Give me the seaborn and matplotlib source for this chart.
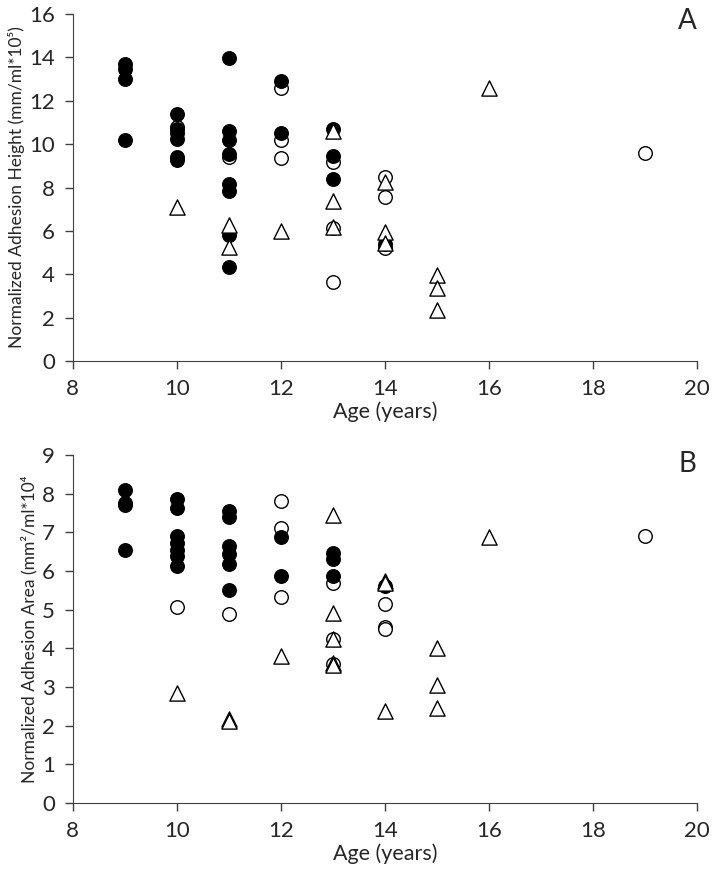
import pandas as pd
import seaborn as sns
import matplotlib.pyplot as plt

# panel A - adhesion height
a_filled_age = [9, 9, 9, 9, 10, 10, 10, 10, 10, 10, 11, 11, 11, 11, 11, 11, 11, 11, 12, 12, 13, 13, 13, 14]
a_filled_val = [13.7, 13.45, 13.0, 10.2, 11.4, 10.7, 10.5, 10.25, 9.4, 9.25,
                13.95, 10.6, 10.2, 9.55, 8.15, 7.85, 5.8, 4.35, 12.9, 10.5, 10.68, 9.47, 8.4, 5.38]
a_open_age = [10, 11, 12, 12, 12, 13, 13, 13, 14, 14, 14, 19]
a_open_val = [10.8, 9.4, 12.6, 10.2, 9.35, 9.18, 6.12, 3.65, 8.5, 7.55, 5.22, 9.6]
a_tri_age = [10, 11, 11, 12, 13, 13, 13, 14, 14, 14, 15, 15, 15, 16]
a_tri_val = [7.1, 6.25, 5.25, 6.0, 10.6, 7.4, 6.2, 8.27, 5.97, 5.45, 3.96, 3.37, 2.37, 12.6]

# panel B - adhesion area
b_filled_age = [9, 9, 9, 9, 10, 10, 10, 10, 10, 10, 10, 11, 11, 11, 11, 11, 11, 12, 12, 13, 13, 13, 14]
b_filled_val = [8.1, 7.75, 7.7, 6.55, 7.85, 7.64, 6.9, 6.72, 6.55, 6.38, 6.12,
                7.55, 7.4, 6.65, 6.45, 6.17, 5.51, 6.89, 5.86, 6.47, 6.3, 5.88, 5.61]
b_open_age = [10, 11, 12, 12, 12, 13, 13, 13, 14, 14, 14, 19]
b_open_val = [5.08, 4.88, 7.8, 7.1, 5.33, 5.68, 4.23, 3.6, 5.15, 4.56, 4.5, 6.91]
b_tri_age = [10, 11, 11, 12, 13, 13, 13, 13, 13, 14, 14, 14, 15, 15, 15, 16]
b_tri_val = [2.84, 2.16, 2.12, 3.8, 7.45, 4.91, 4.24, 3.62, 3.57, 5.74, 5.68, 2.39, 4.02, 3.06, 2.45, 6.89]

sns.set_style("white")
plt.rcParams['font.family'] = ['Lato', 'DejaVu Sans']

fig = plt.figure(figsize=(7.14, 8.82), dpi=100)
ax_a = fig.add_axes([0.102, 0.5907, 0.874, 0.3934])
ax_b = fig.add_axes([0.102, 0.0896, 0.874, 0.3946])


def draw(ax, filled, opened, tri):
    # open circles first, filled on top, triangles last
    sns.scatterplot(x=opened[0], y=opened[1], ax=ax, marker='o', s=95,
                    facecolor='white', edgecolor='black', linewidth=1.0, zorder=3)
    sns.scatterplot(x=filled[0], y=filled[1], ax=ax, marker='o', s=95,
                    color='black', edgecolor='black', linewidth=1.0, zorder=4)
    sns.scatterplot(x=tri[0], y=tri[1], ax=ax, marker='^', s=120,
                    facecolor='white', edgecolor='black', linewidth=1.0, zorder=5)


draw(ax_a, (a_filled_age, a_filled_val), (a_open_age, a_open_val), (a_tri_age, a_tri_val))
draw(ax_b, (b_filled_age, b_filled_val), (b_open_age, b_open_val), (b_tri_age, b_tri_val))

for ax in [ax_a, ax_b]:
    ax.set_xlim(8, 20)
    ax.set_xticks(range(8, 21, 2))
    sns.despine(ax=ax)
    ax.spines['left'].set_color('#404040')
    ax.spines['bottom'].set_color('#404040')
    ax.tick_params(axis='both', direction='out', length=6, width=1, color='#404040',
                   labelsize=16, bottom=True, left=True, pad=7)
    ax.set_xlabel('Age (years)', fontsize=15.5, labelpad=2)

ax_a.set_ylim(0, 16)
ax_a.set_yticks(range(0, 17, 2))
ax_a.set_ylabel('Normalized Adhesion Height (mm/ml*10⁵)', fontsize=12.5, labelpad=3)
ax_a.text(1.0, 1.018, 'A', transform=ax_a.transAxes, ha='right', va='top', fontsize=20)

ax_b.set_ylim(0, 9)
ax_b.set_yticks(range(0, 10))
ax_b.set_ylabel('Normalized Adhesion Area (mm²/ml*10⁴', fontsize=12.5, labelpad=3)
ax_b.text(1.0, 1.01, 'B', transform=ax_b.transAxes, ha='right', va='top', fontsize=20)

fig.savefig('out.png', dpi=100)
